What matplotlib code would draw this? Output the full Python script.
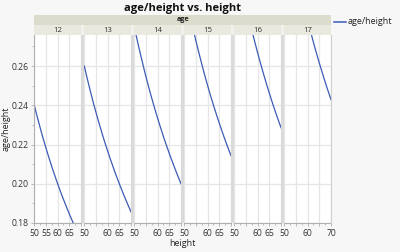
import matplotlib
matplotlib.use("Agg")
import matplotlib.pyplot as plt
from matplotlib.patches import Rectangle
from matplotlib.lines import Line2D

plt.rcParams['font.family'] = ['Open Sans', 'DejaVu Sans']

ages = [12, 13, 14, 15, 16, 17]
heights = [50, 51, 52, 53, 54, 55, 56, 57, 58, 59, 60,
           61, 62, 63, 64, 65, 66, 67, 68, 69, 70]
ratio_12 = [.2400, .2353, .2308, .2264, .2222, .2182, .2143, .2105, .2069, .2034, .2000,
            .1967, .1935, .1905, .1875, .1846, .1818, .1791, .1765, .1739, .1714]
ratio_13 = [.2600, .2549, .2500, .2453, .2407, .2364, .2321, .2281, .2241, .2203, .2167,
            .2131, .2097, .2063, .2031, .2000, .1970, .1940, .1912, .1884, .1857]
ratio_14 = [.2800, .2745, .2692, .2642, .2593, .2545, .2500, .2456, .2414, .2373, .2333,
            .2295, .2258, .2222, .2188, .2154, .2121, .2090, .2059, .2029, .2000]
ratio_15 = [.3000, .2941, .2885, .2830, .2778, .2727, .2679, .2632, .2586, .2542, .2500,
            .2459, .2419, .2381, .2344, .2308, .2273, .2239, .2206, .2174, .2143]
ratio_16 = [.3200, .3137, .3077, .3019, .2963, .2909, .2857, .2807, .2759, .2712, .2667,
            .2623, .2581, .2540, .2500, .2462, .2424, .2388, .2353, .2319, .2286]
ratio_17 = [.3400, .3333, .3269, .3208, .3148, .3091, .3036, .2982, .2931, .2881, .2833,
            .2787, .2742, .2698, .2656, .2615, .2576, .2537, .2500, .2464, .2429]
ratios = [ratio_12, ratio_13, ratio_14, ratio_15, ratio_16, ratio_17]

y_ticks = [0.18, 0.20, 0.22, 0.24, 0.26]
y_labels = ["0.18", "0.20", "0.22", "0.24", "0.26"]
x_ticks = [50, 55, 60, 65, 70]
x_tick_labels = [
    [50, 55, 60, 65],
    [50, 60, 65], [50, 60, 65], [50, 60, 65], [50, 60, 65],
    [50, 60, 70],
]

W, H = 400, 252
fig = plt.figure(figsize=(W / 100, H / 100), dpi=100)
fig.patch.set_facecolor('#f7f7f7')

def fx(x):
    return x / W

def fy(y):
    return 1 - y / H

left0 = 34.3
pw = 46.7
gap = 3.3
top, bottom = 35.0, 223.0
line_color = '#3c5bb5'
grid_color = '#e6e6e6'
axis_color = '#b0b0b0'
tick_fs = 6.2

right_end = left0 + 6 * pw + 5 * gap
fig.patches.append(Rectangle((fx(left0), fy(25)), fx(right_end - left0), 10 / H,
                             transform=fig.transFigure, facecolor='#dcdccc', edgecolor='none'))
fig.text(fx((left0 + right_end) / 2), fy(20), 'age', ha='center', va='center',
         fontsize=5.2, fontweight='bold', color='#222222')

for i, age in enumerate(ages):
    l = left0 + i * (pw + gap)
    ax = fig.add_axes([fx(l), fy(bottom), fx(pw), (bottom - top) / H])
    ax.set_facecolor('white')
    ax.plot(heights, ratios[i], color=line_color, lw=0.9)
    ax.set_xlim(50, 70)
    ax.set_ylim(0.18, 0.2758)
    ax.set_xticks(x_ticks)
    ax.set_xticks([52.5, 57.5, 62.5, 67.5], minor=True)
    ax.set_xticklabels([str(t) if t in x_tick_labels[i] else '' for t in x_ticks],
                       fontsize=tick_fs, color='#333333')
    ax.set_yticks(y_ticks)
    ax.set_yticks([0.19, 0.21, 0.23, 0.25, 0.27], minor=True)
    ax.grid(True, which='major', color=grid_color, lw=0.9)
    ax.set_axisbelow(True)
    for s in ['top', 'right']:
        ax.spines[s].set_visible(False)
    ax.spines['bottom'].set_color(axis_color)
    ax.spines['bottom'].set_linewidth(0.8)
    ax.tick_params(axis='x', which='major', length=2.5, width=0.6, color=axis_color, pad=1.5)
    ax.tick_params(axis='x', which='minor', length=1.5, width=0.6, color=axis_color)
    if i == 0:
        ax.spines['left'].set_color(axis_color)
        ax.spines['left'].set_linewidth(0.8)
        ax.set_yticklabels(y_labels, fontsize=tick_fs, color='#333333')
        ax.tick_params(axis='y', which='major', length=2.5, width=0.6, color=axis_color, pad=1.5)
        ax.tick_params(axis='y', which='minor', length=1.5, width=0.6, color=axis_color)
    else:
        ax.spines['left'].set_visible(False)
        ax.tick_params(axis='y', which='both', length=0, labelleft=False)
    fig.patches.append(Rectangle((fx(l), fy(35)), fx(pw), 10 / H, transform=fig.transFigure,
                                 facecolor='#e9e9df', edgecolor='none'))
    fig.text(fx(l + pw / 2), fy(30), str(age), ha='center', va='center', fontsize=5.6,
             color='#333333')
    if i < 5:
        sx = l + pw
        fig.patches.append(Rectangle((fx(sx), fy(bottom)), fx(gap), (bottom - top) / H,
                                     transform=fig.transFigure, facecolor='#dadada',
                                     edgecolor='none'))
        fig.patches.append(Rectangle((fx(sx), fy(top)), fx(gap), 10 / H,
                                     transform=fig.transFigure, facecolor='#f0f0ec',
                                     edgecolor='none'))

fig.lines.append(Line2D([fx(right_end), fx(right_end)], [fy(bottom), fy(top)],
                        transform=fig.transFigure, color='#d0d0d0', lw=0.8))

fig.text(fx(182.7), fy(8), 'age/height vs. height', ha='center', va='center',
         fontsize=8, fontweight='bold', color='#111111')
fig.text(fx(6), fy(129), 'age/height', ha='center', va='center', rotation=90,
         fontsize=6.5, color='#222222')
fig.text(fx(182), fy(244), 'height', ha='center', va='center', fontsize=6.5, color='#222222')

fig.lines.append(Line2D([fx(334), fx(346)], [fy(21.7), fy(21.7)], transform=fig.transFigure,
                        color=line_color, lw=1.1))
fig.text(fx(347.5), fy(21.7), 'age/height', ha='left', va='center', fontsize=6.5,
         color='#222222')

fig.savefig('out.png', dpi=100, facecolor=fig.get_facecolor())
